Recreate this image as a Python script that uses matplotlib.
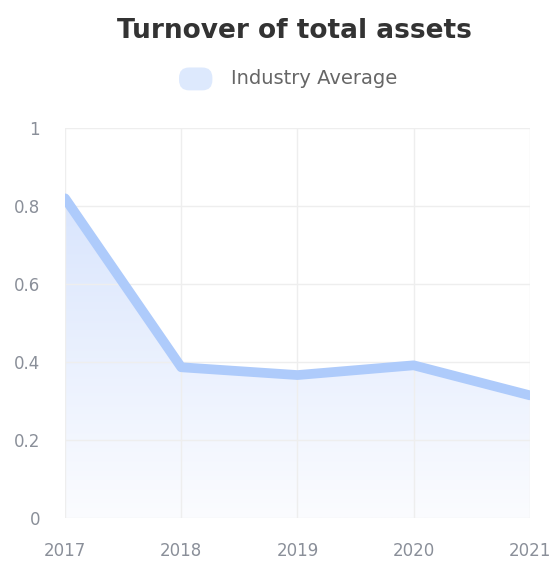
import matplotlib
matplotlib.use("Agg")
import matplotlib.pyplot as plt
import numpy as np
from matplotlib.patches import FancyBboxPatch
from matplotlib.colors import LinearSegmentedColormap

years = ["2017", "2018", "2019", "2020", "2021"]
industry_avg = [0.82, 0.387, 0.367, 0.392, 0.315]
y_ticks = [0, 0.2, 0.4, 0.6, 0.8, 1]
y_tick_labels = ["0", "0.2", "0.4", "0.6", "0.8", "1"]

line_color = "#aecbfb"

fig = plt.figure(figsize=(5.56, 5.72), dpi=100)
ax = fig.add_axes([0.117, 0.094, 0.836, 0.682])

x = np.arange(len(years))
ax.plot(x, industry_avg, color=line_color, lw=7, solid_joinstyle="round", solid_capstyle="round", zorder=3)

# gradient fill
poly = ax.fill_between(x, industry_avg, 0, color="none", zorder=2)
grad = np.linspace(0, 1, 256).reshape(-1, 1)
cmap = LinearSegmentedColormap.from_list("g", ["#fbfcff", "#d9e5fd"])
im = ax.imshow(grad, extent=[x[0], x[-1], 0, max(industry_avg)], origin="lower",
               aspect="auto", cmap=cmap, zorder=1)
path = poly.get_paths()[0]
im.set_clip_path(path, transform=ax.transData)

ax.set_xlim(x[0], x[-1])
ax.set_ylim(0, 1)
ax.set_xticks(x)
ax.set_xticklabels(years)
ax.set_yticks(y_ticks)
ax.set_yticklabels(y_tick_labels)
ax.tick_params(axis="both", length=0, colors="#8a8f99", labelsize=12)
ax.tick_params(axis="x", pad=17)
ax.tick_params(axis="y", pad=18)
ax.grid(True, color="#eeeeee", lw=1)
for s in ax.spines.values():
    s.set_visible(False)

fig.text(0.53, 0.945, "Turnover of total assets", ha="center", va="center",
         fontsize=19, fontweight="bold", color="#333333")
# legend
fig.patches.append(FancyBboxPatch((0.322, 0.842), 0.06, 0.04, boxstyle="round,pad=0,rounding_size=0.018",
                                  transform=fig.transFigure, facecolor="#dde9fd", edgecolor="none"))
fig.text(0.415, 0.862, "Industry Average", ha="left", va="center", fontsize=14, color="#666666")

fig.savefig("out.png", dpi=100)
